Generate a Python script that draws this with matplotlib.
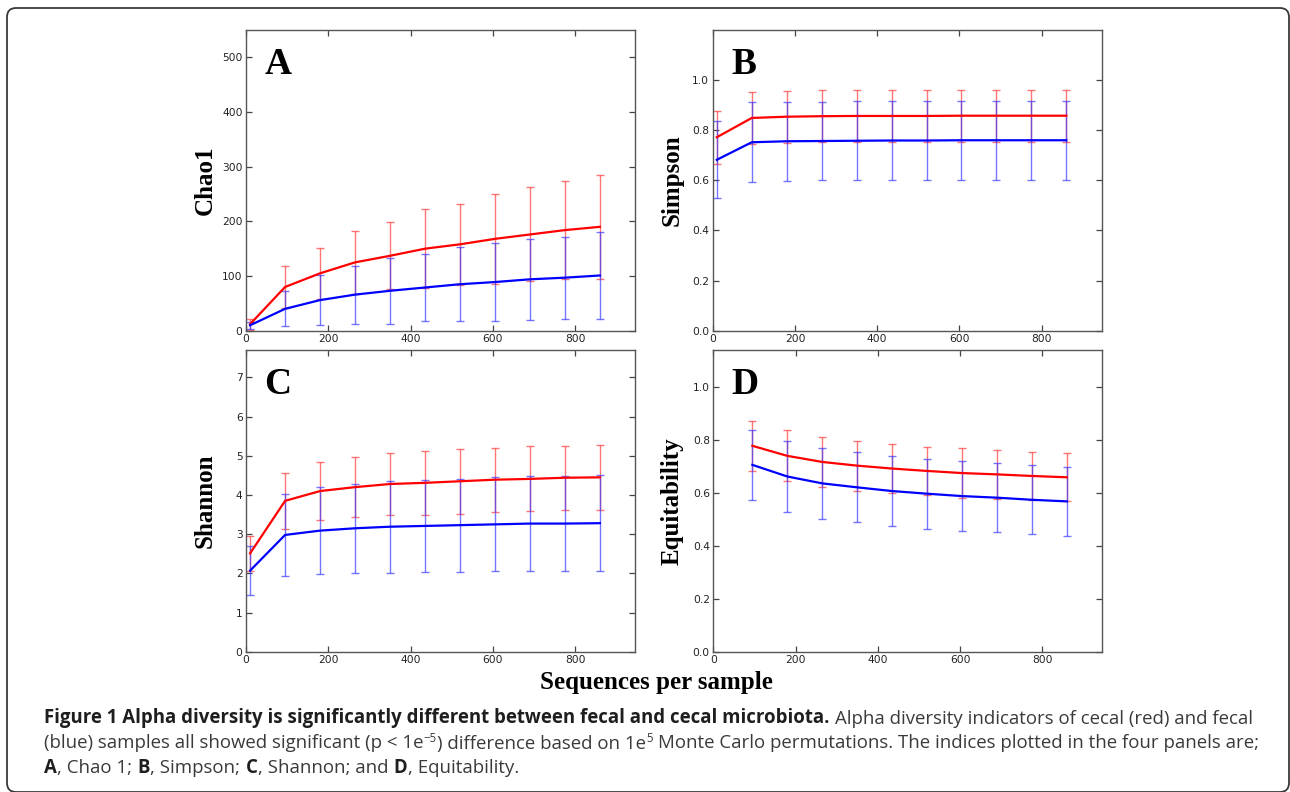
import matplotlib
matplotlib.use('Agg')
import matplotlib.pyplot as plt
from matplotlib.patches import FancyBboxPatch
from matplotlib.transforms import IdentityTransform

W, H = 1290, 792

# ---------------- data ----------------
seqs = [10, 95, 180, 265, 350, 435, 520, 605, 690, 775, 860]
seqs_eq = [95, 180, 265, 350, 435, 520, 605, 690, 775, 860]

chao1_cecal = [12, 80, 105, 125, 137, 150, 158, 168, 176, 184, 190]
chao1_cecal_sd = [10, 39, 47, 57, 61, 72, 74, 82, 86, 90, 95]
chao1_fecal = [10, 40, 56, 66, 73, 79, 85, 89, 94, 97, 101]
chao1_fecal_sd = [6, 32, 45, 53, 60, 62, 68, 71, 74, 75, 79]

simpson_cecal = [0.772, 0.849, 0.854, 0.856, 0.857, 0.857, 0.857, 0.858, 0.858, 0.858, 0.858]
simpson_cecal_sd = [0.106, 0.103, 0.104, 0.103, 0.103, 0.103, 0.104, 0.104, 0.104, 0.104, 0.104]
simpson_fecal = [0.682, 0.752, 0.756, 0.757, 0.758, 0.759, 0.759, 0.760, 0.760, 0.760, 0.760]
simpson_fecal_sd = [0.154, 0.159, 0.158, 0.157, 0.157, 0.157, 0.157, 0.157, 0.157, 0.157, 0.157]

shannon_cecal = [2.51, 3.85, 4.10, 4.20, 4.28, 4.31, 4.35, 4.39, 4.41, 4.44, 4.45]
shannon_cecal_sd = [0.44, 0.71, 0.75, 0.77, 0.80, 0.81, 0.83, 0.82, 0.83, 0.82, 0.83]
shannon_fecal = [2.07, 2.98, 3.09, 3.15, 3.19, 3.21, 3.23, 3.25, 3.27, 3.27, 3.28]
shannon_fecal_sd = [0.62, 1.05, 1.11, 1.13, 1.17, 1.18, 1.19, 1.20, 1.22, 1.22, 1.23]

equit_cecal = [0.778, 0.740, 0.717, 0.703, 0.692, 0.683, 0.675, 0.670, 0.664, 0.659]
equit_cecal_sd = [0.094, 0.096, 0.095, 0.094, 0.092, 0.092, 0.093, 0.093, 0.091, 0.091]
equit_fecal = [0.706, 0.662, 0.636, 0.621, 0.607, 0.597, 0.588, 0.582, 0.574, 0.568]
equit_fecal_sd = [0.133, 0.134, 0.133, 0.132, 0.132, 0.132, 0.131, 0.131, 0.130, 0.129]

panel_letters = ['A', 'B', 'C', 'D']
ylabels = ['Chao1', 'Simpson', 'Shannon', 'Equitability']
xticks = [0, 200, 400, 600, 800]
yticks_list = [[0, 100, 200, 300, 400, 500],
               [0.0, 0.2, 0.4, 0.6, 0.8, 1.0],
               [0, 1, 2, 3, 4, 5, 6, 7],
               [0.0, 0.2, 0.4, 0.6, 0.8, 1.0]]
ylims = [550, 1.2, 7.7, 1.14]
xlabel = 'Sequences per sample'

# ---------------- figure ----------------
fig = plt.figure(figsize=(W / 100, H / 100), dpi=100)
fig.patch.set_facecolor('white')

# rounded frame
frame = FancyBboxPatch((7, H - 792), 1282, 784, boxstyle='round,pad=0,rounding_size=9',
                       transform=IdentityTransform(), facecolor='none',
                       edgecolor='#3a3a3a', linewidth=1.3)
fig.patches.append(frame)

# axes positions (pixels: left, top, right, bottom)
boxes = [(246, 30, 635.3, 330.7),
         (712.7, 30, 1101.7, 330.7),
         (246, 350, 635.3, 651.7),
         (713.3, 350, 1102.3, 651.7)]

series = [
    (seqs, chao1_cecal, chao1_cecal_sd, chao1_fecal, chao1_fecal_sd),
    (seqs, simpson_cecal, simpson_cecal_sd, simpson_fecal, simpson_fecal_sd),
    (seqs, shannon_cecal, shannon_cecal_sd, shannon_fecal, shannon_fecal_sd),
    (seqs_eq, equit_cecal, equit_cecal_sd, equit_fecal, equit_fecal_sd),
]

serif = ['Liberation Serif', 'DejaVu Serif']

for i, (l, t, r, b) in enumerate(boxes):
    ax = fig.add_axes([l / W, 1 - b / H, (r - l) / W, (b - t) / H])
    x, rc, rsd, bc, bsd = series[i]
    ax.errorbar(x, rc, yerr=rsd, fmt='none', ecolor='#ff3b3b', alpha=0.7,
                elinewidth=1.0, capsize=3, capthick=1.0, zorder=2)
    ax.errorbar(x, bc, yerr=bsd, fmt='none', ecolor='#3b3bff', alpha=0.7,
                elinewidth=1.0, capsize=3, capthick=1.0, zorder=2)
    ax.plot(x, rc, color='#ff0000', lw=1.6, zorder=3)
    ax.plot(x, bc, color='#0000ff', lw=1.6, zorder=3)
    ax.set_xlim(0, 946)
    ax.set_ylim(0, ylims[i])
    ax.set_xticks(xticks)
    ax.set_yticks(yticks_list[i])
    if i in (1, 3):
        ax.set_yticklabels(['%.1f' % v for v in yticks_list[i]])
    ax.tick_params(direction='in', top=True, right=True, length=4, width=0.9,
                   labelsize=7.7, labelcolor='#222222', color='#444444', pad=2.5)
    for s in ax.spines.values():
        s.set_color('#555555')
        s.set_linewidth(1.0)
    ax.text(0.047, 0.853, panel_letters[i], transform=ax.transAxes,
            fontsize=27, fontweight='bold', family=serif, va='baseline', ha='left')
    ax.text(-0.105, 0.5, ylabels[i], transform=ax.transAxes, rotation=90,
            fontsize=18, fontweight='bold', family=serif, va='center', ha='center')

fig.text(656 / W, 1 - 682 / H, xlabel, fontsize=18, fontweight='bold', family=serif,
         ha='center', va='center')

# ---------------- caption ----------------
renderer = fig.canvas.get_renderer()
cap_font = ['Open Sans', 'DejaVu Sans']
cap_size = 13.4
bold_col = '#1e1e1e'
reg_col = '#3a3a3a'


def width_of(txt, **kw):
    tt = fig.text(0, 0, txt, **kw)
    w = tt.get_window_extent(renderer).width
    tt.remove()
    return w


space_w = width_of('a a', fontsize=cap_size, family=cap_font) - width_of('aa', fontsize=cap_size, family=cap_font)


def draw_line(x, y, pieces):
    for txt, kind in pieces:
        if kind == 'sp':
            x += space_w
            continue
        kw = dict(family=cap_font, ha='left', va='baseline')
        yy = y
        if kind == 'b':
            kw.update(fontsize=cap_size, fontweight='bold', color=bold_col)
        elif kind == 'sup':
            kw.update(fontsize=cap_size * 0.62, color=reg_col)
            yy = y - 7
        else:
            kw.update(fontsize=cap_size, color=reg_col)
        tt = fig.text(x / W, 1 - yy / H, txt, **kw)
        x += tt.get_window_extent(renderer).width + 0.5


draw_line(44, 723.5, [
    ('Figure 1 Alpha diversity is significantly different between fecal and cecal microbiota.', 'b'),
    ('', 'sp'),
    ('Alpha diversity indicators of cecal (red) and fecal', 'r')])
draw_line(43.5, 748.5, [
    ('(blue) samples all showed significant (p < 1e', 'r'),
    ('\u22125', 'sup'),
    (') difference based on 1e', 'r'),
    ('5', 'sup'),
    ('', 'sp'),
    ('Monte Carlo permutations. The indices plotted in the four panels are;', 'r')])
draw_line(43.5, 773, [
    ('A', 'b'), (', Chao 1;', 'r'), ('', 'sp'),
    ('B', 'b'), (', Simpson;', 'r'), ('', 'sp'),
    ('C', 'b'), (', Shannon; and', 'r'), ('', 'sp'),
    ('D', 'b'), (', Equitability.', 'r')])

fig.savefig('out.png', dpi=100, facecolor='white')
